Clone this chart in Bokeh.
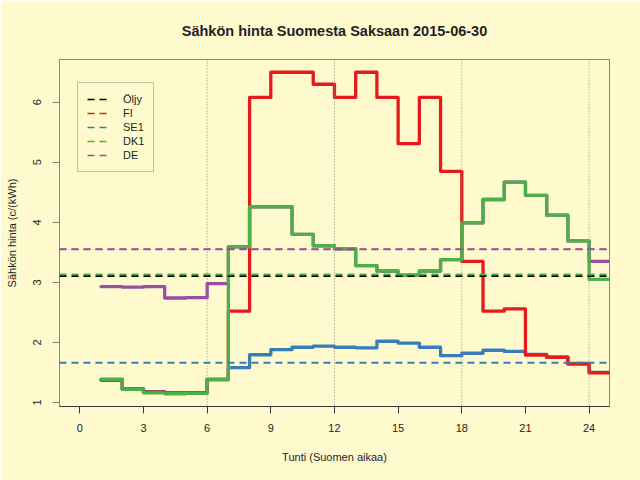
from bokeh.plotting import figure
from bokeh.models import Span, Legend, LegendItem, FixedTicker, Range1d, Title
from bokeh.embed import file_html
from bokeh.resources import INLINE

# ---- data (c/kWh), hour of day (Finnish time) ----
hours = list(range(1, 25))
fi = [1.37, 1.22, 1.17, 1.16, 1.16, 1.38, 2.52, 6.08, 6.50, 6.50, 6.30, 6.08,
      6.50, 6.08, 5.31, 6.08, 4.85, 3.35, 2.52, 2.56, 1.79, 1.75, 1.64, 1.495]
se1 = [1.39, 1.23, 1.18, 1.16, 1.16, 1.39, 1.58, 1.795, 1.88, 1.92, 1.94, 1.92,
       1.91, 2.02, 1.99, 1.92, 1.78, 1.82, 1.87, 1.85, 1.80, 1.76, 1.65, 1.50]
dk1 = [1.38, 1.22, 1.16, 1.145, 1.15, 1.38, 3.59, 4.26, 4.26, 3.80, 3.61, 3.56,
       3.28, 3.19, 3.12, 3.19, 3.38, 3.99, 4.38, 4.67, 4.45, 4.12, 3.69, 3.05]
de = [2.93, 2.92, 2.93, 2.74, 2.745, 2.98, 3.59, 4.26, 4.26, 3.80, 3.61, 3.56,
      3.28, 3.19, 3.12, 3.19, 3.38, 3.99, 4.38, 4.67, 4.45, 4.12, 3.69, 3.35]

series_names = ["Öljy", "FI", "SE1", "DK1", "DE"]
series_colors = ["#000000", "#E41A1C", "#377EB8", "#4DAF4A", "#984EA3"]
mean_values = [3.105, 3.55, 1.66, 3.13, 3.55]   # Öljy, FI, SE1, DK1, DE
mean_widths = [2, 1.4, 2, 2, 2]

x_ticks = [0, 3, 6, 9, 12, 15, 18, 21, 24]
y_ticks = [1, 2, 3, 4, 5, 6]
grid_hours = [6, 12, 18, 24]

BG = "#FFFACD"
TXT = "#231E26"
FONT = "Liberation Sans"

p = figure(width=640, height=480, output_backend="svg", toolbar_location=None,
           x_range=Range1d(-0.957, 24.96), y_range=Range1d(0.933, 6.712),
           min_border_left=59, min_border_top=59, min_border_right=31,
           min_border_bottom=74)
p.background_fill_color = BG
p.border_fill_color = BG
p.outline_line_color = "#8C8478"
p.outline_line_width = 1
p.xgrid.visible = False
p.ygrid.visible = False

p.title.text = "Sähkön hinta Suomesta Saksaan 2015-06-30"
p.title.align = "center"
p.title.text_font = FONT
p.title.text_font_size = "14.5px"
p.title.text_font_style = "bold"
p.title.text_color = TXT
p.title.standoff = 10
# thin blank spacer between the title and the plot frame
spacer = Title(text=" ", text_font_size="1px", standoff=13)
p.above = [spacer] + list(p.above)

# axes
xa = p.xaxis[0]
xa.ticker = FixedTicker(ticks=x_ticks)
xa.axis_label = "Tunti (Suomen aikaa)"
ya = p.yaxis[0]
ya.ticker = FixedTicker(ticks=y_ticks)
ya.axis_label = "Sähkön hinta (c/(kWh)"
ya.major_label_orientation = "vertical"
for ax in (xa, ya):
    ax.minor_tick_line_color = None
    ax.major_tick_in = 0
    ax.major_tick_out = 7
    ax.major_label_text_font = FONT
    ax.major_label_text_font_size = "11px"
    ax.major_label_text_color = TXT
    ax.axis_label_text_font = FONT
    ax.axis_label_text_font_size = "11px"
    ax.axis_label_text_font_style = "normal"
    ax.axis_label_text_color = TXT
xa.axis_line_color = "#3A3040"
xa.major_tick_line_color = "#3A3040"
ya.axis_line_color = "#8C8478"
ya.major_tick_line_color = "#8C8478"
xa.major_label_standoff = 10
xa.axis_label_standoff = 16
ya.major_label_standoff = 11
ya.axis_label_standoff = 13

# dotted vertical guides
for h in grid_hours:
    p.add_layout(Span(location=h, dimension="height", line_color="#8A8A8A",
                      line_width=1, line_dash="1 2"))

# mean / reference dashed lines
for m, c, w in zip(mean_values, series_colors, mean_widths):
    p.add_layout(Span(location=m, dimension="width", line_color=c,
                      line_width=w, line_dash="7 5"))

# step lines (value holds for the hour; last hour extended to 25)
def stepped(vals):
    return hours + [25], vals + [vals[-1]]

for vals, c in ((de, series_colors[4]), (se1, series_colors[2]),
                (fi, series_colors[1]), (dk1, series_colors[3])):
    xs, ys = stepped(vals)
    p.step(x=xs, y=ys, mode="after", line_color=c, line_width=3.3,
           line_join="round", line_cap="round")

# legend (dashed swatches) -- swatch renderers sit outside the visible range
items = []
for name, c in zip(series_names, series_colors):
    r = p.line(x=[-30, -29], y=[-30, -30], line_color=c, line_width=1.5,
               line_dash="7 5")
    items.append(LegendItem(label=name, renderers=[r]))
legend = Legend(items=items, location=(18, 234))
legend.border_line_color = "#8C8478"
legend.border_line_width = 1
legend.background_fill_color = BG
legend.background_fill_alpha = 1.0
legend.padding = 9
legend.spacing = 0
legend.margin = 0
legend.glyph_width = 20
legend.glyph_height = 14
legend.label_height = 14
legend.label_standoff = 16
legend.label_text_font = FONT
legend.label_text_font_size = "11px"
legend.label_text_color = TXT
p.add_layout(legend)

open("out.html", "w").write(file_html(p, INLINE))
